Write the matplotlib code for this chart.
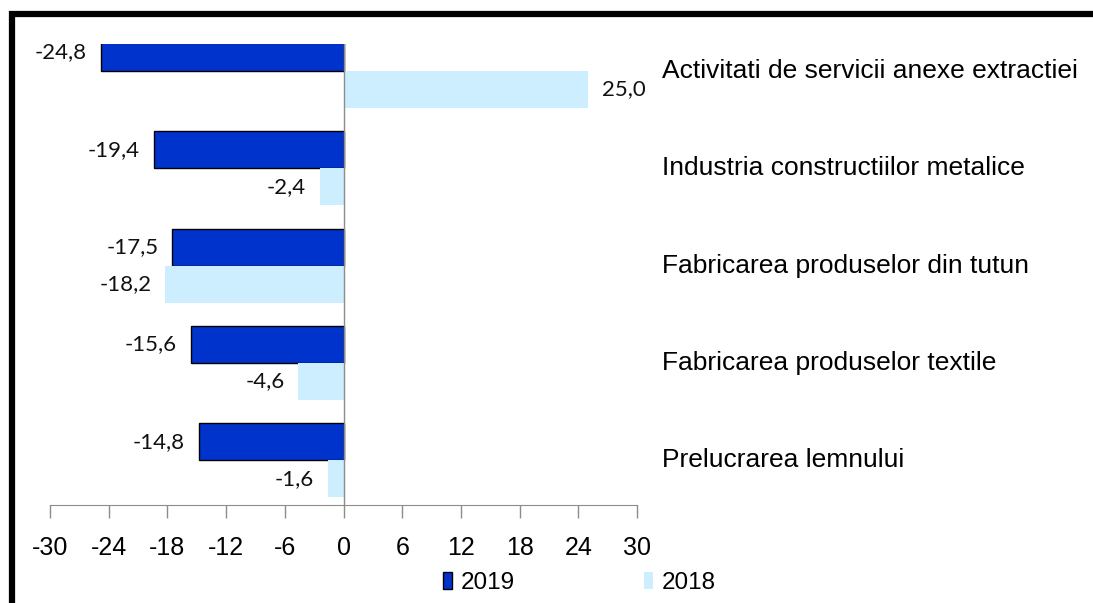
import matplotlib.pyplot as plt
from matplotlib.patches import Rectangle

plt.rcParams['font.family'] = ['Liberation Sans', 'DejaVu Sans']
plt.rcParams['axes.unicode_minus'] = False

# data
categories = ['Activitati de servicii anexe extractiei',
              'Industria constructiilor metalice',
              'Fabricarea produselor din tutun',
              'Fabricarea produselor textile',
              'Prelucrarea lemnului']
values_2019 = [-24.8, -19.4, -17.5, -15.6, -14.8]
values_2018 = [25.0, -2.4, -18.2, -4.6, -1.6]
xticks = [-30, -24, -18, -12, -6, 0, 6, 12, 18, 24, 30]

c2019 = '#0033cc'
c2018 = '#cceeff'
grey = '#8c8c8c'

fig = plt.figure(figsize=(10.93, 6.03), dpi=100)
ax = fig.add_axes([50 / 1093, 1 - 505 / 603, 587 / 1093, 461 / 603])

h = 0.38
y = list(range(len(categories)))
b19 = ax.barh([i - h / 2 for i in y], values_2019, height=h, color=c2019,
              edgecolor='black', linewidth=1, label='2019')
b18 = ax.barh([i + h / 2 for i in y], values_2018, height=h, color=c2018,
              linewidth=0, label='2018')

def fmt(v):
    return f'{v:.1f}'.replace('.', ',')

for bars, vals in [(b19, values_2019), (b18, values_2018)]:
    for rect, v in zip(bars, vals):
        yc = rect.get_y() + rect.get_height() / 2
        off = 10 if v >= 0 else -10
        ax.annotate(fmt(v), (v, yc), xytext=(off, 0), textcoords='offset points',
                    ha='left' if v >= 0 else 'right', va='center',
                    fontsize=16, family=['Lato', 'DejaVu Sans'], color='#111111')

for i, name in enumerate(categories):
    ax.text(1.0426, i, name, transform=ax.get_yaxis_transform(),
            ha='left', va='center', fontsize=19, color='black', clip_on=False)

ax.set_xlim(-30, 30)
ax.set_ylim((505 - 71) / 97.3, (44 - 71) / 97.3)
ax.axvline(0, color=grey, linewidth=1)

for s in ['top', 'right', 'left']:
    ax.spines[s].set_visible(False)
ax.spines['bottom'].set_color(grey)
ax.set_yticks([])
ax.set_xticks(xticks)
ax.set_xticklabels([str(t) for t in xticks])
ax.tick_params(axis='x', direction='out', length=9, color=grey, width=1,
               labelsize=18, pad=13)

fig.legend(handles=[b19, b18], loc='center', bbox_to_anchor=(0.53, 0.033),
           ncol=2, frameon=False, fontsize=17.5, handlelength=0.4,
           handleheight=0.7, handletextpad=0.35, columnspacing=5.3)

# black frame on top and left
fig.patches.append(Rectangle((12 / 1093, -0.2), 1.5, 1.2 - 13.5 / 603,
                             transform=fig.transFigure, fill=False,
                             edgecolor='black', linewidth=4.5))

fig.savefig('out.png', dpi=100)
